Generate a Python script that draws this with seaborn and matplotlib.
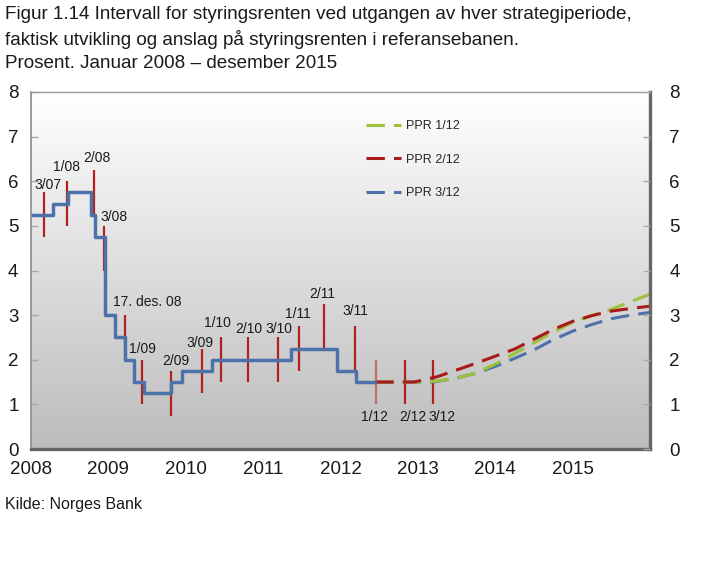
import numpy as np
import matplotlib
matplotlib.use("Agg")
import matplotlib.pyplot as plt
from matplotlib.colors import LinearSegmentedColormap
import seaborn as sns

# ---------------- data ----------------
title = ("Figur 1.14 Intervall for styringsrenten ved utgangen av hver strategiperiode,\n"
         "faktisk utvikling og anslag på styringsrenten i referansebanen.\n"
         "Prosent. Januar 2008 – desember 2015")
source = "Kilde: Norges Bank"

# actual key policy rate (decimal year, percent)
rate_t = [2008.0, 2008.285, 2008.48, 2008.78, 2008.83, 2008.96, 2009.09, 2009.22,
          2009.335, 2009.455, 2009.815, 2009.955, 2010.34, 2011.36, 2011.955, 2012.2, 2012.45]
rate_v = [5.25, 5.5, 5.75, 5.25, 4.75, 3.0, 2.5, 2.0,
          1.5, 1.25, 1.5, 1.75, 2.0, 2.25, 1.75, 1.5, 1.5]

# intervals for the key policy rate at end of each strategy period
int_t = [2008.17, 2008.46, 2008.81, 2008.94, 2009.22, 2009.44, 2009.81, 2010.21, 2010.46,
         2010.81, 2011.19, 2011.47, 2011.79, 2012.19, 2012.46, 2012.83, 2013.19]
int_lo = [4.75, 5.0, 5.25, 4.0, 2.0, 1.0, 0.75, 1.25, 1.5, 1.5, 1.5, 1.75, 2.25, 1.75, 1.0, 1.0, 1.0]
int_hi = [5.75, 6.0, 6.25, 5.0, 3.0, 2.0, 1.75, 2.25, 2.5, 2.5, 2.5, 2.75, 3.25, 2.75, 2.0, 2.0, 2.0]
int_labels = ["3/07", "1/08", "2/08", "3/08", "17. des. 08", "1/09", "2/09", "3/09", "1/10",
              "2/10", "3/10", "1/11", "2/11", "3/11", "1/12", "2/12", "3/12"]

# projections in the reference paths
ppr1_t = [2012.45, 2013.0, 2013.25, 2013.5, 2013.75, 2014.0, 2014.25, 2014.5, 2014.75,
          2015.0, 2015.25, 2015.5, 2015.75, 2016.0]
ppr1_v = [1.5, 1.5, 1.52, 1.59, 1.70, 1.90, 2.14, 2.38, 2.62, 2.84, 2.99, 3.13, 3.30, 3.47]
ppr2_t = [2012.45, 2012.95, 2013.25, 2013.5, 2013.75, 2014.0, 2014.25, 2014.5, 2014.75,
          2015.0, 2015.25, 2015.5, 2015.75, 2016.0]
ppr2_v = [1.5, 1.5, 1.62, 1.77, 1.92, 2.08, 2.24, 2.46, 2.68, 2.86, 2.99, 3.09, 3.15, 3.20]
ppr3_t = [2012.45, 2013.2, 2013.5, 2013.75, 2014.0, 2014.25, 2014.5, 2014.75,
          2015.0, 2015.25, 2015.5, 2015.75, 2016.0]
ppr3_v = [1.5, 1.5, 1.59, 1.70, 1.85, 2.03, 2.22, 2.45, 2.64, 2.79, 2.92, 3.00, 3.06]
ppr_names = ["PPR 1/12", "PPR 2/12", "PPR 3/12"]

year_ticks = list(range(2008, 2016))
y_ticks = list(range(0, 9))

# ---------------- style ----------------
sns.set_style("white")
plt.rcParams["font.family"] = ["Liberation Sans", "DejaVu Sans"]

C_BLUE = "#4d72aa"
C_RED = "#a91b1b"
C_GREEN = "#9cc13a"
C_BAR = "#b32020"

# label offsets (pixels) relative to bar end
lab_off = [(4, 3), (0, 10), (3, 8), (10, 5), (22, 9), (0, 7), (5, 6), (-2, 2), (-4, 10),
           (0, 4), (1, 4), (-2, 8), (-2, 6), (0, 11), (-2, -6), (8, -6), (9, -6)]
lab_below = [False] * 14 + [True] * 3

fig = plt.figure(figsize=(7.13, 5.65), dpi=100)
ax = fig.add_axes([31 / 713, 1 - 449 / 565, 619 / 713, 357 / 565])

# gradient background
cmap = LinearSegmentedColormap.from_list("bg", ["#bcbcbc", "#ffffff"])
ax.imshow(np.linspace(1, 0, 256)[:, None], extent=[0, 1, 0, 1], transform=ax.transAxes,
          cmap=cmap, aspect="auto", zorder=0, origin="upper", vmin=0, vmax=1)

# interval bars
bar_colors = [C_BAR] * len(int_t)
bar_colors[14] = "#c86a6a"
ax.vlines(int_t, int_lo, int_hi, colors=bar_colors, linewidth=1.6, zorder=2)

for t, lo, hi, lab, (dx, dy), below in zip(int_t, int_lo, int_hi, int_labels, lab_off, lab_below):
    if below:
        ax.annotate(lab, (t, lo), xytext=(dx, dy), textcoords="offset pixels",
                    ha="center", va="top", fontsize=10, color="#1a1a1a")
    else:
        ax.annotate(lab, (t, hi), xytext=(dx, dy), textcoords="offset pixels",
                    ha="center", va="baseline", fontsize=10, color="#1a1a1a")

# projections
dash = (0, (6, 3))
sns.lineplot(x=ppr3_t, y=ppr3_v, ax=ax, color=C_BLUE, linewidth=2.2, linestyle=dash,
             zorder=3, sort=False, estimator=None)
sns.lineplot(x=ppr1_t, y=ppr1_v, ax=ax, color=C_GREEN, linewidth=2.2, linestyle=dash,
             zorder=4, sort=False, estimator=None)
sns.lineplot(x=ppr2_t, y=ppr2_v, ax=ax, color=C_RED, linewidth=2.2, linestyle=dash,
             zorder=5, sort=False, estimator=None)

# actual rate
sns.lineplot(x=rate_t, y=rate_v, ax=ax, color=C_BLUE, linewidth=2.5, drawstyle="steps-post",
             zorder=6, sort=False, estimator=None)

lines = ax.get_lines()
handles = [lines[1], lines[2], lines[0]]
ax.legend(handles, ppr_names, loc="upper left", bbox_to_anchor=(0.541, 0.921),
          frameon=False, fontsize=9, handlelength=2.8, handletextpad=0.4,
          labelspacing=1.72, borderpad=0, borderaxespad=0)

ax.set_xlim(2008, 2016)
ax.set_ylim(0, 8)
ax.set_xticks(year_ticks)
ax.set_xticklabels([str(y) for y in year_ticks])
ax.set_yticks(y_ticks)
ax.set_xlabel("")
ax.set_ylabel("")
ax.tick_params(axis="both", direction="in", length=5, color="#a8a8a8", width=1,
               labelsize=13.5, labelcolor="#1a1a1a")
ax.tick_params(axis="x", pad=9)
ax.tick_params(axis="y", pad=9)

ax2 = ax.twinx()
ax2.set_ylim(0, 8)
ax2.set_yticks(y_ticks)
ax2.tick_params(axis="y", direction="in", length=5, color="#a8a8a8", width=1,
                labelsize=13.5, labelcolor="#1a1a1a", pad=14)
for sp in ax2.spines.values():
    sp.set_visible(False)

ax.spines["left"].set_color("#8a8a8a")
ax.spines["left"].set_linewidth(1.2)
ax.spines["top"].set_color("#9a9a9a")
ax.spines["top"].set_linewidth(1.0)
ax.spines["right"].set_color("#666666")
ax.spines["right"].set_linewidth(2.4)
ax.spines["bottom"].set_color("#666666")
ax.spines["bottom"].set_linewidth(2.4)
for sp in ax.spines.values():
    sp.set_zorder(10)

fig.text(5 / 713, 1 - 6 / 565, title, ha="left", va="top", fontsize=13.6,
         linespacing=1.45, color="#1a1a1a")
fig.text(5 / 713, 1 - 504 / 565, source, ha="left", va="center", fontsize=11.5,
         color="#1a1a1a")

fig.savefig("out.png", dpi=100)
